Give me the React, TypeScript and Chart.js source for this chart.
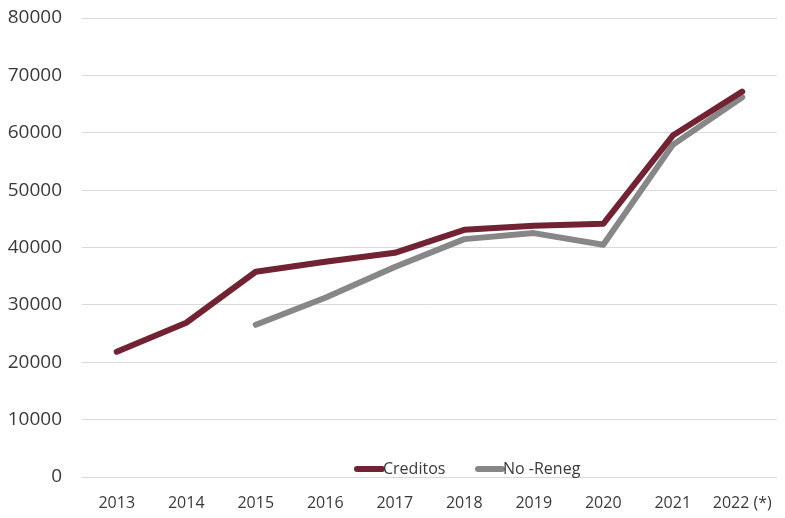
import React, { useEffect, useRef } from "react";
import { Chart, registerables } from "chart.js";

Chart.register(...registerables);

const categories = ["2013", "2014", "2015", "2016", "2017", "2018", "2019", "2020", "2021", "2022 (*)"];
const creditos = [21830, 26880, 35770, 37510, 39080, 43080, 43780, 44130, 59510, 67180];
const noReneg = [null, null, 26530, 31240, 36600, 41460, 42510, 40470, 57890, 66200];
const yTicks = [0, 10000, 20000, 30000, 40000, 50000, 60000, 70000, 80000];

const RED = "#712233";
const GRAY = "#878787";
const TEXT = "#3a3a3a";
const FONT = "'Open Sans', 'Liberation Sans', sans-serif";

const legendPlugin = {
  id: "insideLegend",
  afterDraw(chart: any) {
    const ctx = chart.ctx;
    const y = 469;
    ctx.save();
    ctx.font = `16px ${FONT}`;
    ctx.textBaseline = "middle";
    ctx.textAlign = "left";
    const items = [
      { label: "Creditos", color: RED, x0: 357, x1: 382 },
      { label: "No -Reneg", color: GRAY, x0: 478, x1: 502 },
    ];
    items.forEach((it) => {
      ctx.strokeStyle = it.color;
      ctx.lineWidth = 6;
      ctx.lineCap = "round";
      ctx.beginPath();
      ctx.moveTo(it.x0, y);
      ctx.lineTo(it.x1, y);
      ctx.stroke();
      ctx.fillStyle = TEXT;
      ctx.fillText(it.label, it.x1 + 1, y);
    });
    ctx.restore();
  },
};

export default function App() {
  const ref = useRef<HTMLCanvasElement | null>(null);
  useEffect(() => {
    if (!ref.current) return;
    const chart = new Chart(ref.current, {
      type: "line",
      data: {
        labels: categories,
        datasets: [
          {
            label: "Creditos",
            data: creditos,
            borderColor: RED,
            backgroundColor: RED,
            borderWidth: 6,
            borderCapStyle: "round",
            borderJoinStyle: "round",
            pointRadius: 0,
            tension: 0,
          },
          {
            label: "No -Reneg",
            data: noReneg as any,
            borderColor: GRAY,
            backgroundColor: GRAY,
            borderWidth: 6,
            borderCapStyle: "round",
            borderJoinStyle: "round",
            pointRadius: 0,
            tension: 0,
          },
        ],
      },
      options: {
        animation: false,
        responsive: false,
        devicePixelRatio: 1,
        layout: { padding: { left: 0, right: 8, top: 18, bottom: 0 } },
        plugins: {
          legend: { display: false },
          tooltip: { enabled: false },
        },
        scales: {
          x: {
            offset: true,
            grid: { display: false, drawTicks: false },
            border: { display: false },
            ticks: {
              color: TEXT,
              font: { family: FONT, size: 16 },
              padding: 17,
              maxRotation: 0,
              autoSkip: false,
            },
            afterFit: (s: any) => {
              s.height = 41;
              s.paddingLeft = 0;
              s.paddingRight = 0;
            },
          },
          y: {
            min: 0,
            max: 80000,
            afterBuildTicks: (s: any) => {
              s.ticks = yTicks.map((v) => ({ value: v }));
            },
            grid: { color: "#D9D9D9", lineWidth: 1, drawTicks: false },
            border: { display: false },
            ticks: {
              color: TEXT,
              font: { family: FONT, size: 19 },
              padding: 20,
              callback: (v: any) => String(v),
            },
            afterFit: (s: any) => {
              s.width = 82;
              s.paddingTop = 0;
              s.paddingBottom = 0;
            },
          },
        },
      },
      plugins: [legendPlugin],
    });
    return () => chart.destroy();
  }, []);
  return (
    <div style={{ position: "fixed", left: 0, top: 0, width: 785, height: 518, background: "#fff" }}>
      <canvas ref={ref} width={785} height={518} style={{ width: 785, height: 518, display: "block" }} />
    </div>
  );
}
